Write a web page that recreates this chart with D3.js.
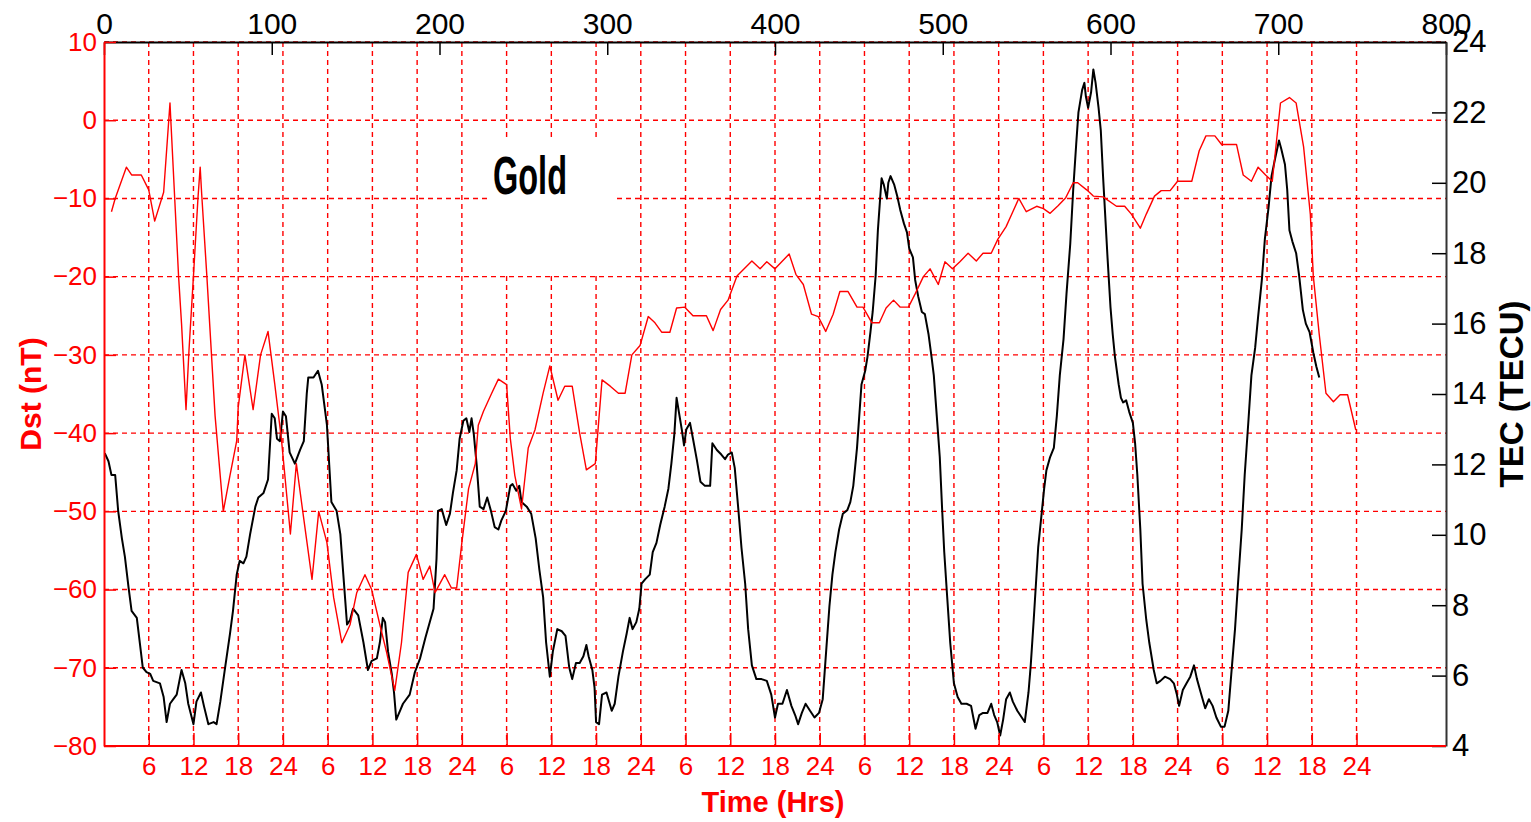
<!DOCTYPE html>
<html><head><meta charset="utf-8">
<script src="https://cdn.jsdelivr.net/npm/d3@7"></script>
<style>
body{margin:0;background:#fff}
svg{display:block}
text{font-family:"Liberation Sans",Arial,sans-serif}
</style>
</head><body>
<svg id="c" width="1531" height="822"></svg>
<script>
// ---------- data ----------
const topTicks = [0,100,200,300,400,500,600,700,800];
const dstTicks = [-80,-70,-60,-50,-40,-30,-20,-10,0,10];
const tecTicks = [4,6,8,10,12,14,16,18,20,22,24];
const hourTicks = [6,12,18,24,30,36,42,48,54,60,66,72,78,84,90,96,102,108,114,120,126,132,138,144,150,156,162,168];
const hourTickLabels = ["6","12","18","24","6","12","18","24","6","12","18","24","6","12","18","24","6","12","18","24","6","12","18","24","6","12","18","24"];

// Dst (nT), red series: time in hours
const dstHours = [1.0,1.5,3.0,3.7,5.0,6.0,6.8,8.0,8.85,9.0,10.0,10.4,11.0,11.4,12.0,12.6,12.9,13.1,13.8,14.9,16.0,16.9,17.8,18.0,18.9,20.0,21.0,22.0,22.9,23.8,25.0,25.8,26.7,27.9,28.8,29.9,30.8,31.9,33.0,33.9,35.0,35.9,37.0,37.9,39.0,39.9,40.8,41.9,42.8,43.7,44.4,45.7,46.6,47.3,48.0,48.9,49.8,50.2,50.9,52.0,52.9,54.0,54.5,55.1,56.0,56.9,57.8,58.9,59.8,60.9,61.8,62.8,63.8,64.7,65.9,66.8,67.9,69.0,69.9,70.8,71.9,73.0,73.9,74.8,75.9,76.8,77.9,79.0,80.8,81.7,82.7,83.7,84.9,86.9,88.0,88.9,90.0,91.9,92.8,93.8,94.9,95.8,96.8,97.8,98.7,99.8,101.0,101.8,103.0,104.0,104.9,105.9,106.8,107.9,108.8,109.9,110.8,111.9,112.8,113.8,114.8,115.9,117.0,117.9,119.0,119.9,121.0,121.9,122.7,123.7,125.1,126.0,126.9,128.0,129.0,130.0,130.6,131.8,132.7,134.0,135.8,136.9,137.8,139.0,139.8,140.9,141.8,143.0,144.0,145.9,146.9,147.8,149.0,149.9,151.9,152.8,153.9,154.8,155.8,156.7,157.8,159.0,159.9,160.9,161.8,162.2,163.0,163.9,164.9,165.8,166.8,167.9];
const dstValues = [-11.7,-10,-6,-7,-7,-8.9,-12.9,-9.2,2.2,-0.7,-19.9,-26,-37,-29.4,-19.9,-10,-6,-9.4,-20,-37.8,-50,-45.4,-41,-36.7,-30,-37,-30,-27,-33.7,-40.8,-52.9,-43.9,-50.3,-58.7,-50,-54,-61,-66.8,-64.5,-60.4,-58.1,-60,-64.5,-68,-72.9,-66.8,-57.8,-55.5,-58.7,-57,-60.4,-58.1,-59.8,-59.8,-54,-47.1,-43.9,-39,-37.2,-34.9,-33.1,-33.8,-40.7,-45.4,-49.7,-41.9,-39.6,-34.9,-31.4,-35.8,-34,-34,-40,-44.7,-43.9,-33.2,-34,-34.9,-34.9,-30,-28.8,-25.1,-25.9,-27.1,-27.1,-24,-23.9,-25,-25,-26.9,-24.2,-23,-19.9,-18,-19,-18.1,-19,-17.1,-19.7,-21,-24.8,-25.1,-27,-24.8,-21.9,-21.9,-23.9,-23.9,-25.9,-25.9,-24,-23,-23.9,-23.9,-22.2,-20,-19,-21,-18.1,-19,-18.1,-17,-18,-17,-17,-15.2,-13.6,-11.7,-10,-11.7,-11,-11.3,-11.9,-10.9,-9.9,-8,-8,-8.9,-9.7,-9.8,-11,-11,-12,-13.8,-12,-9.7,-9,-9,-7.8,-7.8,-3.9,-2,-2,-3.1,-3.1,-7,-7.8,-6,-7,-7.8,2.2,2.9,2.2,-3.4,-12,-19.9,-27.4,-34.9,-36,-35.1,-35.1,-39.6];

// TEC (TECU), black series: time in hours
const tecHours = [0.1,0.6,1.0,1.5,1.9,2.4,2.8,3.3,3.7,4.4,4.8,5.2,5.7,6.2,6.6,7.5,8.0,8.4,8.85,9.3,9.75,10.4,10.9,11.3,12.0,12.4,13.0,13.4,14.0,14.7,15.1,15.6,16.2,16.9,17.3,17.8,18.2,18.7,19.1,19.6,20.3,20.7,21.4,22.0,22.5,22.9,23.2,23.6,24.0,24.4,24.9,25.6,26.3,26.8,27.2,27.4,28.1,28.7,29.2,29.9,30.5,31.2,31.7,32.1,32.6,33.0,33.4,34.1,34.8,35.4,35.9,36.6,37.0,37.4,37.7,38.1,38.6,38.9,39.2,39.7,40.1,41.0,41.7,42.4,43.1,43.7,44.2,44.6,44.8,45.3,45.9,46.4,46.8,47.3,47.7,48.2,48.6,49.0,49.3,49.6,50.0,50.4,50.9,51.4,51.9,52.4,52.9,53.3,53.9,54.5,54.8,55.3,55.7,56.0,56.7,57.3,57.9,58.4,58.9,59.3,59.8,60.2,60.8,61.4,61.9,62.4,62.8,63.3,63.8,64.3,64.7,65.0,65.5,65.8,66.0,66.4,66.8,67.4,68.1,68.5,69.0,69.6,70.1,70.5,70.9,71.4,71.8,72.1,72.6,73.2,73.6,74.1,74.6,75.2,75.7,76.1,76.5,76.8,77.1,77.5,77.8,78.1,78.6,79.0,79.5,80.0,80.6,81.3,81.6,82.2,82.8,83.3,83.7,84.2,84.6,85.1,85.5,86.0,86.4,86.9,87.5,88.2,88.9,89.5,90.0,90.4,91.0,91.6,92.2,92.7,93.1,93.6,94.1,94.7,95.3,95.9,96.4,96.9,97.3,97.7,98.1,98.6,99.1,99.7,100.1,100.5,101.0,101.3,101.6,102.1,102.4,102.8,103.1,103.5,103.8,104.1,104.3,104.6,105.0,105.2,105.5,106.0,106.4,106.8,107.3,107.7,108.0,108.5,108.8,109.2,109.7,110.1,110.6,111.0,111.3,111.7,112.1,112.4,112.7,113.1,113.5,114.0,114.5,115.0,115.7,116.3,116.6,116.9,117.4,117.9,118.5,119.0,119.4,119.8,120.2,120.6,121.0,121.5,121.9,122.5,123.1,123.5,124.0,124.3,124.7,125.0,125.3,125.8,126.1,126.4,126.9,127.4,127.8,128.2,128.7,129.1,129.6,130.0,130.4,130.7,131.2,131.5,131.7,132.0,132.4,132.7,133.0,133.4,133.7,134.0,134.3,134.6,135.0,135.3,135.6,136.1,136.4,136.7,137.1,137.5,138.0,138.3,138.6,139.0,139.3,139.8,140.2,140.8,141.2,141.7,142.3,143.0,143.5,143.9,144.2,144.7,145.2,145.7,146.2,146.6,147.1,147.7,148.2,148.7,149.2,149.8,150.3,150.8,151.2,151.7,152.1,152.6,153.0,153.5,153.9,154.4,154.8,155.3,155.7,156.2,156.6,157.1,157.6,157.9,158.4,158.7,159.0,159.4,159.9,160.3,160.8,161.2,161.7,162.2,162.6,163.0];
const tecValues = [12.32,12.09,11.7,11.7,10.68,9.9,9.38,8.49,7.84,7.64,6.94,6.23,6.1,6.05,5.85,5.78,5.39,4.68,5.2,5.33,5.46,6.16,5.78,5.2,4.62,5.26,5.52,5.14,4.62,4.68,4.62,5.26,6.16,7.19,7.84,8.87,9.26,9.19,9.38,10.02,10.8,11.06,11.19,11.57,13.44,13.31,12.73,12.66,13.5,13.37,12.34,12.02,12.41,12.66,14.02,14.47,14.47,14.66,14.27,13.12,10.93,10.68,10.02,8.87,7.45,7.58,7.9,7.71,6.94,6.16,6.42,6.49,6.94,7.64,7.52,6.68,6.05,5.52,4.75,5.0,5.2,5.46,6.1,6.49,7.07,7.52,7.9,9.32,10.68,10.73,10.28,10.6,11.19,11.83,12.73,13.24,13.31,12.92,13.31,12.86,11.95,10.8,10.73,11.06,10.68,10.22,10.15,10.41,10.68,11.39,11.44,11.25,11.39,10.93,10.8,10.6,9.9,9.0,8.23,6.94,5.97,6.68,7.32,7.26,7.13,6.23,5.9,6.36,6.36,6.55,6.87,6.55,6.16,5.65,4.68,4.62,5.46,5.52,5.0,5.2,5.97,6.68,7.19,7.64,7.32,7.52,7.9,8.61,8.74,8.87,9.51,9.77,10.28,10.8,11.31,12.02,12.86,13.89,13.5,12.99,12.54,12.99,13.18,12.73,12.15,11.51,11.39,11.39,12.6,12.41,12.28,12.15,12.28,12.34,11.9,10.68,9.64,8.61,7.32,6.29,5.9,5.9,5.85,5.46,4.81,5.2,5.2,5.59,5.14,4.88,4.62,4.94,5.2,5.0,4.81,4.94,5.33,6.81,7.97,8.87,9.51,10.15,10.6,10.7,10.93,11.39,12.47,13.37,14.27,14.66,15.05,15.76,16.33,17.36,18.65,19.55,20.13,19.94,19.55,20.0,20.19,19.94,19.62,19.23,18.84,18.59,18.14,17.88,17.24,16.78,16.33,16.27,15.69,15.05,14.53,13.37,12.21,10.8,9.51,8.22,6.94,5.78,5.39,5.2,5.2,5.14,4.81,4.49,4.88,4.94,4.94,5.2,4.88,4.68,4.3,4.75,5.33,5.52,5.26,5.0,4.81,4.68,5.52,6.29,7.58,8.61,9.64,10.68,11.31,11.83,12.21,12.47,13.37,14.53,15.56,16.85,18.26,19.81,21.1,22.0,22.64,22.84,22.45,22.13,22.58,23.22,22.84,22.13,21.48,20.19,19.04,17.88,16.46,15.69,15.05,14.27,13.89,13.76,13.82,13.5,13.18,12.6,11.7,10.15,8.61,7.58,6.94,6.16,5.78,5.85,5.97,5.9,5.78,5.46,5.14,5.59,5.78,5.97,6.29,5.9,5.52,5.07,5.33,5.14,4.81,4.55,4.55,5.0,6.04,7.32,8.61,10.15,11.7,13.24,14.53,15.31,16.2,17.24,18.39,19.3,20.19,20.71,21.2,20.97,20.52,19.81,18.65,18.33,18.0,17.36,16.39,16.0,15.76,15.18,14.79,14.47];

// ---------- drawing ----------
const svg = d3.select("#c");
const L = 104, R = 1446, T = 42, B = 746;
const RED = "#ff0000";

const x = d3.scaleLinear().domain([0,180]).range([L,R]);
const xTop = d3.scaleLinear().domain([0,800]).range([L,R]);
const yDst = d3.scaleLinear().domain([-80,10]).range([B,T]);
const yTec = d3.scaleLinear().domain([4,24]).range([B,T]);

// grid
const grid = svg.append("g").attr("stroke",RED).attr("stroke-width",1.4).attr("stroke-dasharray","5,4").attr("fill","none");
grid.selectAll("line.h").data(dstTicks.filter(d=>d>-80)).join("line")
  .attr("x1",L).attr("x2",R).attr("y1",d=>yDst(d)).attr("y2",d=>yDst(d));
grid.selectAll("line.v").data(hourTicks).join("line")
  .attr("x1",d=>x(d)).attr("x2",d=>x(d)).attr("y1",T).attr("y2",B);

// label box
svg.append("rect").attr("x",491).attr("y",140).attr("width",122).attr("height",134).attr("fill","#fff");
svg.append("text").attr("x",493).attr("y",194)
  .attr("font-family","'Liberation Sans Narrow','DejaVu Sans Condensed',sans-serif")
  .attr("font-weight","bold").attr("font-size",54)
  .attr("textLength",74).attr("lengthAdjust","spacingAndGlyphs")
  .attr("fill","#000").text("Gold");

// series
const tecData = tecHours.map((h,i)=>[h,tecValues[i]]);
const dstData = dstHours.map((h,i)=>[h,dstValues[i]]);
svg.append("path").datum(tecData)
  .attr("fill","none").attr("stroke","#000").attr("stroke-width",2).attr("stroke-linejoin","round")
  .attr("d", d3.line().x(d=>x(d[0])).y(d=>yTec(d[1])));
svg.append("path").datum(dstData)
  .attr("fill","none").attr("stroke",RED).attr("stroke-width",1.4).attr("stroke-linejoin","round")
  .attr("d", d3.line().x(d=>x(d[0])).y(d=>yDst(d[1])));

// axes
function style(g, color, fs, lineColor){
  g.select(".domain").attr("stroke",lineColor||color).attr("stroke-width",2);
  g.selectAll(".tick line").attr("stroke",color).attr("stroke-width",1.5);
  g.selectAll(".tick text").attr("fill",color).attr("font-size",fs)
    .attr("font-family","'Liberation Sans',Arial,sans-serif");
}
const gTop = svg.append("g").attr("transform",`translate(0,${T})`)
  .call(d3.axisTop(xTop).tickValues(topTicks).tickSizeInner(-13).tickSizeOuter(0).tickPadding(8));
style(gTop,"#000",30);

const gRight = svg.append("g").attr("transform",`translate(${R},0)`)
  .call(d3.axisRight(yTec).tickValues(tecTicks).tickSizeInner(-14).tickSizeOuter(0).tickPadding(6));
style(gRight,"#000",31,"#333");

const gLeft = svg.append("g").attr("transform",`translate(${L},0)`)
  .call(d3.axisLeft(yDst).tickValues(dstTicks).tickSizeInner(-12).tickSizeOuter(0).tickPadding(7));
style(gLeft,RED,26);

const gBot = svg.append("g").attr("transform",`translate(0,${B})`)
  .call(d3.axisBottom(x).tickValues(hourTicks).tickFormat((d,i)=>hourTickLabels[i]).tickSizeInner(-13).tickSizeOuter(0).tickPadding(11));
style(gBot,RED,26);
gBot.select(".domain").attr("d",`M${L},0H${R}`);

// titles
svg.append("text").attr("transform","translate(41,394) rotate(-90)")
  .attr("text-anchor","middle").attr("font-size",30).attr("font-weight","bold")
  .attr("fill",RED).text("Dst (nT)");
svg.append("text").attr("transform","translate(1523,394) rotate(-90)")
  .attr("text-anchor","middle").attr("font-size",33).attr("font-weight","bold")
  .attr("fill","#000").text("TEC (TECU)");
svg.append("text").attr("x",773).attr("y",812)
  .attr("text-anchor","middle").attr("font-size",29).attr("font-weight","bold")
  .attr("fill",RED).text("Time (Hrs)");
</script>
</body></html>
